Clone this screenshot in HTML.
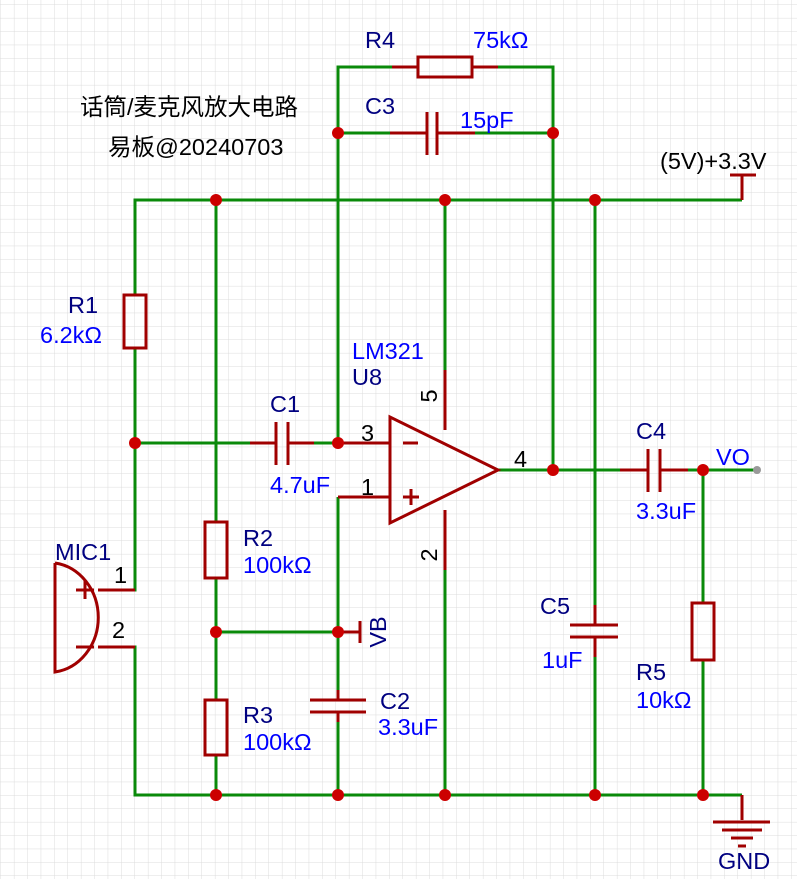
<!DOCTYPE html>
<html><head><meta charset="utf-8"><style>
html,body{margin:0;padding:0;background:#fff}
svg{display:block}
text{font-family:"Liberation Sans","Noto Sans CJK SC",sans-serif;font-size:23.5px}
.n{fill:#000080}.v{fill:#0000ff}.k{fill:#000}
</style></head><body>
<svg width="797" height="879" viewBox="0 0 797 879" xmlns="http://www.w3.org/2000/svg">
<defs><pattern id="g" width="13.4" height="13.4" patternUnits="userSpaceOnUse" x="1" y="5">
<path d="M13.4 0V13.4M0 13.4H13.4" stroke="#dcdcdc" stroke-width="1" fill="none"/></pattern></defs>
<rect width="797" height="879" fill="url(#g)"/>
<g stroke="#0a8a0a" stroke-width="3" fill="none">
<path d="M135 295V200H742M135 348V590H120M120 647H135V795H742"/>
<path d="M216 200V522M216 578V700M216 755V795M216 632H338"/>
<path d="M338 443V67H392M498 67H553V470M338 133H390M475 133H553"/>
<path d="M135 443H250M314 443H338M338 497V690M338 722V795"/>
<path d="M445 200V370M445 570V795"/>
<path d="M498 470H620M688 470H755M703 470V603M703 660V795"/>
<path d="M595 200V605M595 657V795"/>
</g>
<g stroke="#a00000" stroke-width="3" fill="none">
<path d="M392 67H418M472 67H498"/><rect x="418" y="57" width="54" height="20"/>
<path d="M390 133H427M437 133H475M427 112V155M437 112V155"/>
<path d="M742 200V175M730 175H756"/>
<rect x="124" y="295" width="22" height="53"/>
<rect x="205" y="522" width="22" height="56"/>
<rect x="205" y="700" width="22" height="55"/>
<path d="M250 443H276M288 443H314M276 422V465M288 422V465"/>
<path d="M338 443H390M338 497H390"/>
<path d="M390 417V523L498 470Z"/>
<path d="M403 443H418M403 497H419M411 489V505"/>
<path d="M445 370V430M445 510V570"/>
<path d="M338 632H360M360 621V643"/>
<path d="M338 690V700M310 700H366M310 712H366M338 712V722"/>
<path d="M620 470H648M660 470H688M648 449V492M660 449V492"/>
<path d="M595 605V625M570 625H618M570 637H618M595 637V657"/>
<rect x="692" y="603" width="22" height="57"/>
<path d="M742 795V820M713 822H770M722 830H762M731 838H753M738 846H746"/>
<path d="M98 590H135M98 647H135M55 563V672A50 55 0 0 0 55 563"/>
<path d="M76 590H94M85 581V599M76 647H94"/>
</g>
<g fill="#cc0000">
<circle cx="216" cy="200" r="6"/><circle cx="445" cy="200" r="6"/><circle cx="595" cy="200" r="6"/>
<circle cx="338" cy="133" r="6"/><circle cx="553" cy="133" r="6"/>
<circle cx="135" cy="443" r="6"/><circle cx="338" cy="443" r="6"/><circle cx="553" cy="470" r="6"/><circle cx="703" cy="470" r="6"/>
<circle cx="216" cy="632" r="6"/><circle cx="338" cy="632" r="6"/>
<circle cx="216" cy="795" r="6"/><circle cx="338" cy="795" r="6"/><circle cx="445" cy="795" r="6"/><circle cx="595" cy="795" r="6"/><circle cx="703" cy="795" r="6"/>
</g>
<circle cx="757" cy="470" r="4" fill="#999"/>
<text class="k" x="80" y="115">话筒/麦克风放大电路</text>
<text class="k" x="108" y="155">易板@20240703</text>
<text class="n" x="365" y="48">R4</text><text class="v" x="473" y="48">75kΩ</text>
<text class="n" x="365" y="114">C3</text><text class="v" x="460" y="128">15pF</text>
<text class="k" x="660" y="169">(5V)+3.3V</text>
<text class="n" x="68" y="313">R1</text><text class="v" x="40" y="343">6.2kΩ</text>
<text class="v" x="352" y="359">LM321</text><text class="n" x="352" y="385">U8</text>
<text class="n" x="270" y="412">C1</text><text class="v" x="270" y="493">4.7uF</text>
<text class="k" x="361" y="441">3</text><text class="k" x="361" y="495">1</text><text class="k" x="514" y="467">4</text>
<text class="k" transform="translate(437 396) rotate(-90)" text-anchor="middle">5</text>
<text class="k" transform="translate(437 555) rotate(-90)" text-anchor="middle">2</text>
<text class="n" x="636" y="439">C4</text><text class="v" x="716" y="465">VO</text><text class="v" x="636" y="519">3.3uF</text>
<text class="n" x="55" y="560">MIC1</text><text class="k" x="114" y="583">1</text><text class="k" x="112" y="638">2</text>
<text class="n" x="243" y="546">R2</text><text class="v" x="243" y="573">100kΩ</text>
<text class="n" transform="translate(386 632) rotate(-90)" text-anchor="middle">VB</text>
<text class="n" x="540" y="614">C5</text><text class="v" x="542" y="668">1uF</text>
<text class="n" x="636" y="680">R5</text><text class="v" x="636" y="708">10kΩ</text>
<text class="n" x="380" y="709">C2</text><text class="v" x="378" y="735">3.3uF</text>
<text class="n" x="243" y="723">R3</text><text class="v" x="243" y="750">100kΩ</text>
<text class="n" x="718" y="869">GND</text>
</svg>
</body></html>
